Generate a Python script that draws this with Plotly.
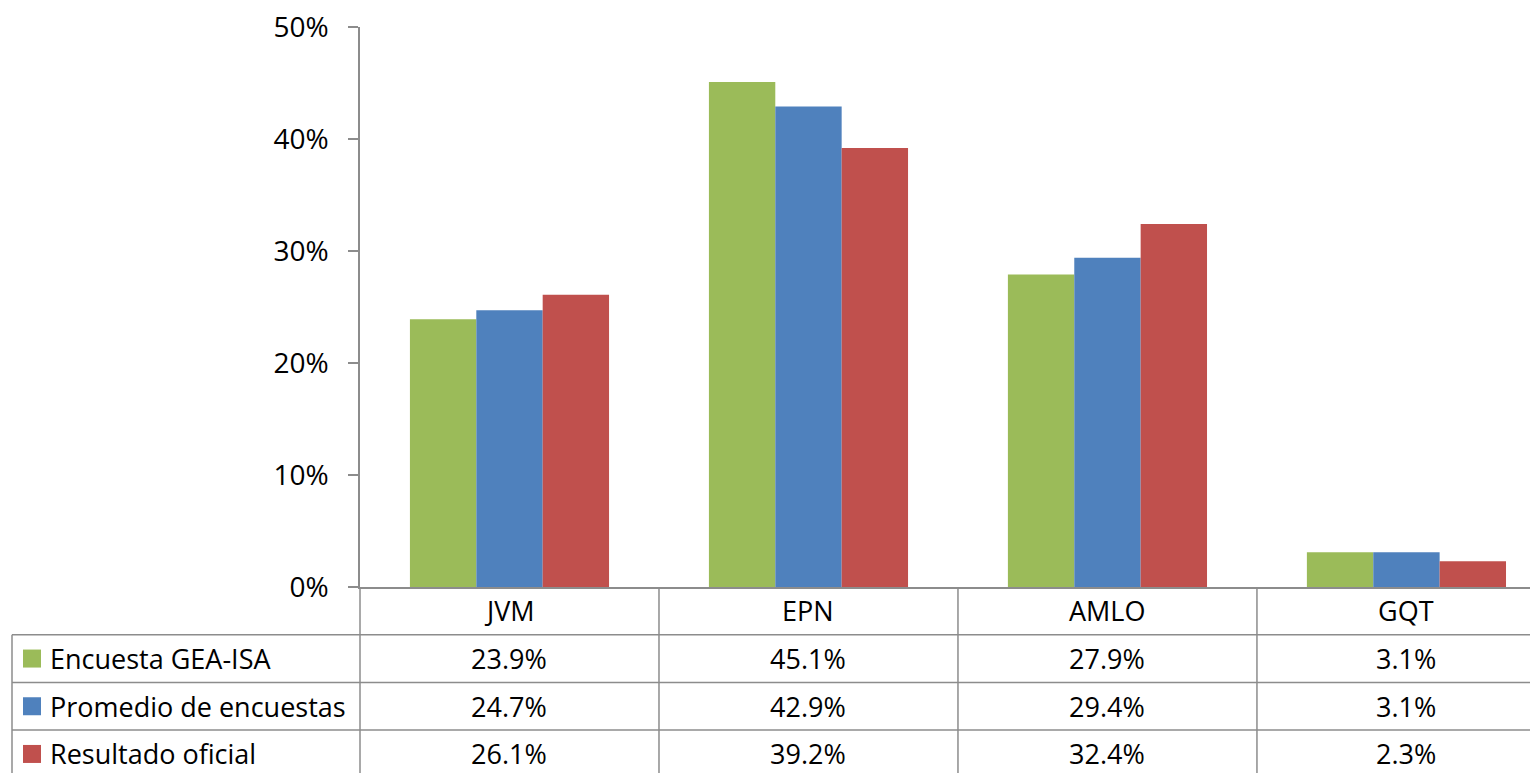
import plotly.graph_objects as go

categories = ["JVM", "EPN", "AMLO", "GQT"]
series_names = ["Encuesta GEA-ISA", "Promedio de encuestas", "Resultado oficial"]
gea_isa = [23.9, 45.1, 27.9, 3.1]
promedio = [24.7, 42.9, 29.4, 3.1]
oficial = [26.1, 39.2, 32.4, 2.3]
colors = ["#9BBB59", "#4F81BD", "#C0504D"]
y_ticks = [0, 10, 20, 30, 40, 50]

series_values = [gea_isa, promedio, oficial]

# page body has an 8px margin, so the figure is offset by 8px
OFF = 8
W, H = 1538 - OFF, 773 - OFF
ML, MR, MT, MB = 360 - OFF, 0, 27 - OFF, 186
PW, PH = W - ML - MR, H - MT - MB
XR = [-0.5, 3.44]
GRID = "#8C8C8C"
FONT = "Open Sans"
TABLE_FS = 27
ROW_PX = 47.7


def xdom(v):
    return (v - XR[0]) / (XR[1] - XR[0])


def xpx(px):
    # px in screen coords
    return (px - OFF - ML) / PW


def ypx(px):
    return (MT + PH - (px - OFF)) / PH


fig = go.Figure()
for name, vals, col in zip(series_names, series_values, colors):
    fig.add_trace(go.Bar(
        x=list(range(len(categories))), y=[v / 100 for v in vals], name=name,
        marker=dict(color=col, line=dict(width=0)), showlegend=False,
    ))

shapes = []
annotations = []
y0 = 587
bottom = ypx(800)
for r in range(1, 4):
    yy = ypx(y0 + r * ROW_PX)
    shapes.append(dict(type="line", xref="x domain", yref="y domain",
                       x0=xpx(12), x1=1.02, y0=yy, y1=yy,
                       line=dict(color=GRID, width=1.5)))
shapes.append(dict(type="line", xref="x domain", yref="y domain",
                   x0=xpx(12), x1=xpx(12), y0=ypx(y0 + ROW_PX), y1=bottom,
                   line=dict(color=GRID, width=1.5)))
for b in [-0.5, 0.5, 1.5, 2.5]:
    shapes.append(dict(type="line", xref="x domain", yref="y domain",
                       x0=xdom(b), x1=xdom(b), y0=0, y1=bottom,
                       line=dict(color=GRID, width=1.5)))

for i, c in enumerate(categories):
    annotations.append(dict(text=c, xref="x domain", yref="y domain",
                            x=xdom(i), y=ypx(y0 + ROW_PX / 2), showarrow=False,
                            xanchor="center", yanchor="middle",
                            font=dict(family=FONT, size=TABLE_FS, color="black")))
for r, (name, vals, col) in enumerate(zip(series_names, series_values, colors)):
    yc = ypx(y0 + ROW_PX * (r + 1.5))
    shapes.append(dict(type="rect", xref="x domain", yref="y domain",
                       x0=xpx(23), x1=xpx(41), y0=yc - 9 / PH, y1=yc + 9 / PH,
                       fillcolor=col, line=dict(width=0)))
    annotations.append(dict(text=name, xref="x domain", yref="y domain",
                            x=xpx(48), y=yc, showarrow=False,
                            xanchor="left", yanchor="middle",
                            font=dict(family=FONT, size=TABLE_FS, color="black")))
    for i, v in enumerate(vals):
        annotations.append(dict(text=f"{v:.1f}%", xref="x domain", yref="y domain",
                                x=xdom(i), y=yc, showarrow=False,
                                xanchor="center", yanchor="middle",
                                font=dict(family=FONT, size=TABLE_FS, color="black")))

fig.update_layout(
    width=W, height=H,
    margin=dict(l=ML, r=MR, t=MT, b=MB, pad=0),
    paper_bgcolor="white", plot_bgcolor="white",
    barmode="group", bargap=0.334, bargroupgap=0,
    font=dict(family=FONT, color="black"),
    shapes=shapes, annotations=annotations,
    xaxis=dict(range=XR, showticklabels=False, showgrid=False, zeroline=False,
               showline=True, linecolor=GRID, linewidth=1.5, ticks=""),
    yaxis=dict(range=[0, 0.5], tickvals=[t / 100 for t in y_ticks],
               ticktext=[f"{t}%" for t in y_ticks],
               showgrid=False, zeroline=False, showline=True, linecolor=GRID,
               linewidth=1.5, ticks="outside", ticklen=10, tickcolor=GRID,
               tickwidth=1.5, ticklabelstandoff=14, ticklabeloverflow="allow",
               tickfont=dict(family=FONT, size=28, color="black")),
)

fig.write_html("out.html")
